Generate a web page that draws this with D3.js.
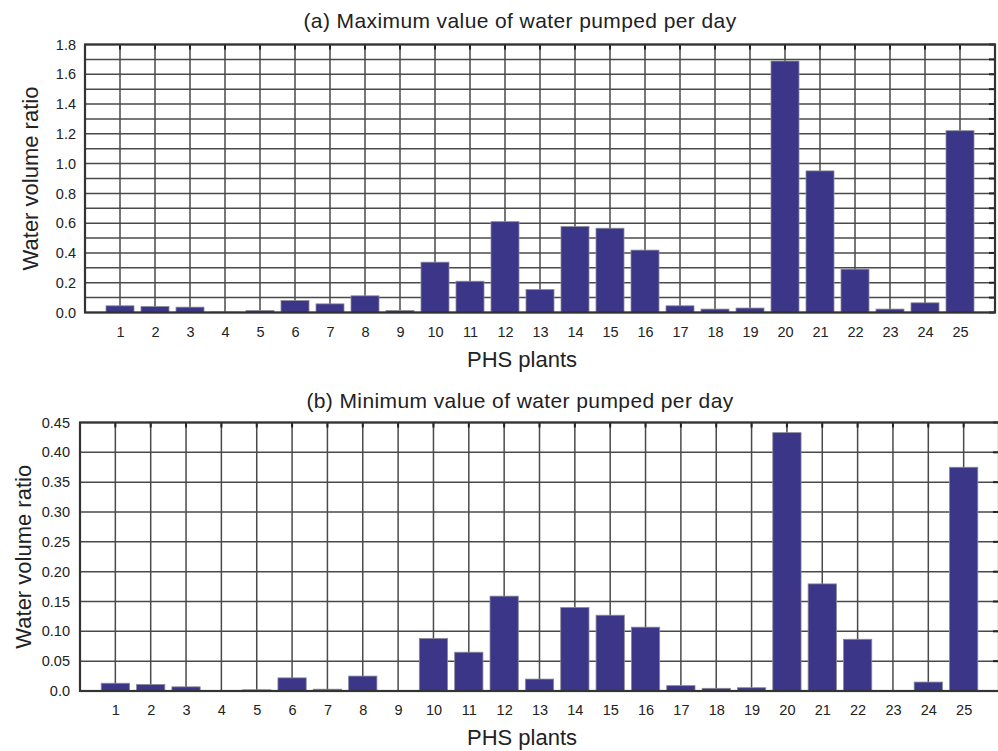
<!DOCTYPE html>
<html>
<head>
<meta charset="utf-8">
<script src="https://cdn.jsdelivr.net/npm/d3@7"></script>
<style>
  body { margin: 0; background: #fff; }
  svg text { font-family: "Liberation Sans", Arial, sans-serif; fill: #222; }
</style>
</head>
<body>
<svg id="chart" width="998" height="751"></svg>
<script>
// PHS plant numbers
const plants = d3.range(1, 26);

// (a) maximum water volume ratio pumped per day
const maxValues = [0.045, 0.04, 0.036, 0.003, 0.013, 0.08, 0.058, 0.112, 0.013, 0.338,
  0.21, 0.61, 0.154, 0.577, 0.566, 0.419, 0.045, 0.023, 0.03, 1.689,
  0.951, 0.291, 0.023, 0.065, 1.221];

// (b) minimum water volume ratio pumped per day
const minValues = [0.013, 0.011, 0.007, 0.001, 0.002, 0.022, 0.003, 0.025, 0.001, 0.088,
  0.065, 0.159, 0.02, 0.14, 0.127, 0.107, 0.009, 0.0045, 0.0055, 0.433,
  0.1795, 0.0867, 0.001, 0.015, 0.375];

const maxTicks = [0, 0.2, 0.4, 0.6, 0.8, 1.0, 1.2, 1.4, 1.6, 1.8];
const maxGrid = d3.range(0, 19).map(d => d / 10);
const minTicks = [0, 0.05, 0.10, 0.15, 0.20, 0.25, 0.30, 0.35, 0.40, 0.45];

const svg = d3.select('#chart');
const barColor = '#3b3687';
const gridColor = '#4a4a4a';

function drawPanel(opts) {
    const { left, right, top, bottom, values, yMax, ticks, grid, fmt, yPad,
        title, titleY, ylabelX } = opts;

    const x = d3.scaleLinear().domain([0, 26]).range([left, right]);
    const y = d3.scaleLinear().domain([0, yMax]).range([bottom, top]);
    const bw = (x(1) - x(0)) * 0.8;

    const g = svg.append('g');

    // horizontal grid
    g.selectAll('.hgrid')
        .data(grid)
        .enter()
        .append('line')
        .attr('x1', left).attr('x2', right)
        .attr('y1', d => y(d))
        .attr('y2', d => y(d))
        .attr('stroke', gridColor)
        .attr('stroke-width', 1.5);

    // vertical grid at each plant
    g.selectAll('.vgrid')
        .data(plants)
        .enter()
        .append('line')
        .attr('x1', d => x(d))
        .attr('x2', d => x(d))
        .attr('y1', top).attr('y2', bottom)
        .attr('stroke', gridColor)
        .attr('stroke-width', 1.5);

    // small inward ticks on top and right edges
    g.selectAll('.ttick')
        .data(plants)
        .enter()
        .append('line')
        .attr('x1', d => x(d)).attr('x2', d => x(d))
        .attr('y1', top).attr('y2', top + 5)
        .attr('stroke', '#222')
        .attr('stroke-width', 2);
    g.selectAll('.rtick')
        .data(grid)
        .enter()
        .append('line')
        .attr('x1', right - 6).attr('x2', right)
        .attr('y1', d => y(d)).attr('y2', d => y(d))
        .attr('stroke', '#222')
        .attr('stroke-width', 2);

    // bars
    g.selectAll('.bar')
        .data(values)
        .enter()
        .append('rect')
        .attr('x', (d, i) => x(plants[i]) - bw / 2)
        .attr('y', d => y(d))
        .attr('width', bw)
        .attr('height', d => bottom - y(d))
        .attr('fill', barColor)
        .attr('stroke', '#8a8a9a')
        .attr('stroke-width', 0.8);

    // frame
    g.append('rect')
        .attr('x', left).attr('y', top)
        .attr('width', right - left).attr('height', bottom - top)
        .attr('fill', 'none')
        .attr('stroke', '#333')
        .attr('stroke-width', 2.2);

    // y axis labels
    const yAxis = d3.axisLeft(y).tickValues(ticks).tickFormat(fmt).tickSize(0).tickPadding(yPad);
    g.append('g')
        .attr('transform', `translate(${left},0)`)
        .call(yAxis)
        .call(s => s.select('.domain').remove())
        .selectAll('text')
        .style('font-size', '14.5px')
        .attr('fill', '#222');

    // x axis labels
    const xAxis = d3.axisBottom(x).tickValues(plants).tickFormat(d3.format('d')).tickSize(0).tickPadding(14);
    g.append('g')
        .attr('transform', `translate(0,${bottom})`)
        .call(xAxis)
        .call(s => s.select('.domain').remove())
        .selectAll('text')
        .style('font-size', '14.5px')
        .attr('fill', '#222');

    // titles
    g.append('text')
        .attr('x', 520).attr('y', titleY)
        .attr('text-anchor', 'middle')
        .style('font-size', '21px')
        .style('letter-spacing', '0.4px')
        .text(title);

    g.append('text')
        .attr('x', 522).attr('y', bottom + 54)
        .attr('text-anchor', 'middle')
        .style('font-size', '22px')
        .text('PHS plants');

    g.append('text')
        .attr('transform', `translate(${ylabelX},${(top + bottom) / 2}) rotate(-90)`)
        .attr('text-anchor', 'middle')
        .style('font-size', '22px')
        .text('Water volume ratio');
}

drawPanel({
    left: 85, right: 995, top: 44.5, bottom: 312.5,
    values: maxValues, yMax: 1.8, ticks: maxTicks, grid: maxGrid,
    fmt: d3.format('.1f'), yPad: 9,
    title: '(a) Maximum value of water pumped per day', titleY: 28, ylabelX: 38
});

drawPanel({
    left: 80, right: 999, top: 422.5, bottom: 691,
    values: minValues, yMax: 0.45, ticks: minTicks, grid: minTicks,
    fmt: d => d === 0 ? '0.0' : d3.format('.2f')(d), yPad: 10,
    title: '(b) Minimum value of water pumped per day', titleY: 408, ylabelX: 31
});
</script>
</body>
</html>
